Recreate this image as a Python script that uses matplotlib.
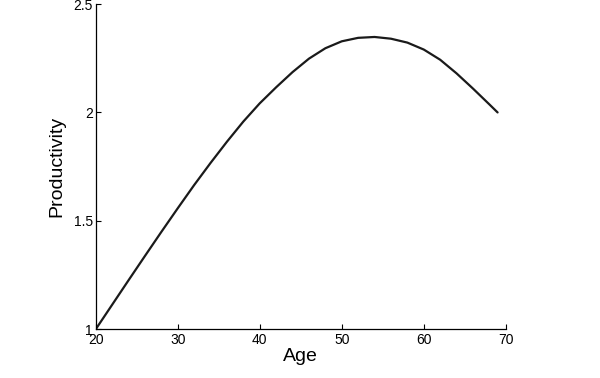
import matplotlib

matplotlib.use("Agg")
import matplotlib.pyplot as plt

# productivity curve, every two years
ages = [20, 22, 24, 26, 28, 30, 32, 34, 36, 38, 40, 42, 44, 46, 48, 50,
        52, 54, 56, 58, 60, 62, 64, 66, 68, 69]
productivity = [1.000, 1.113, 1.226, 1.338, 1.449, 1.558, 1.665, 1.767,
                1.865, 1.958, 2.042, 2.116, 2.186, 2.248, 2.296, 2.328,
                2.344, 2.348, 2.340, 2.322, 2.290, 2.243, 2.180, 2.110,
                2.037, 2.000]

x_ticks = [20, 30, 40, 50, 60, 70]
y_ticks = [1, 1.5, 2, 2.5]
y_tick_labels = ["1", "1.5", "2", "2.5"]

plt.rcParams["font.family"] = ["Liberation Sans", "DejaVu Sans"]

fig = plt.figure(figsize=(6.0, 3.78), dpi=100)
ax = fig.add_axes([0.1595, 0.1288, 0.6835, 0.8606])

ax.plot(ages, productivity, color="#1a1a1a", linewidth=1.6,
        solid_capstyle="round", solid_joinstyle="round")

ax.set_xlim(20, 70)
ax.set_ylim(1, 2.5)
ax.set_xticks(x_ticks)
ax.set_yticks(y_ticks, y_tick_labels)
ax.tick_params(direction="in", length=3.5, width=0.8, labelsize=10,
               pad=2.5, colors="black")
ax.tick_params(axis="y", pad=2)

for side in ("top", "right"):
    ax.spines[side].set_visible(False)
for side in ("left", "bottom"):
    ax.spines[side].set_linewidth(0.9)
    ax.spines[side].set_color("black")

ax.set_xlabel("Age", fontsize=14)
ax.set_ylabel("Productivity", fontsize=14)
ax.xaxis.set_label_coords(0.5, -0.056)
ax.yaxis.set_label_coords(-0.075, 0.5)

fig.savefig("out.png", dpi=100)
